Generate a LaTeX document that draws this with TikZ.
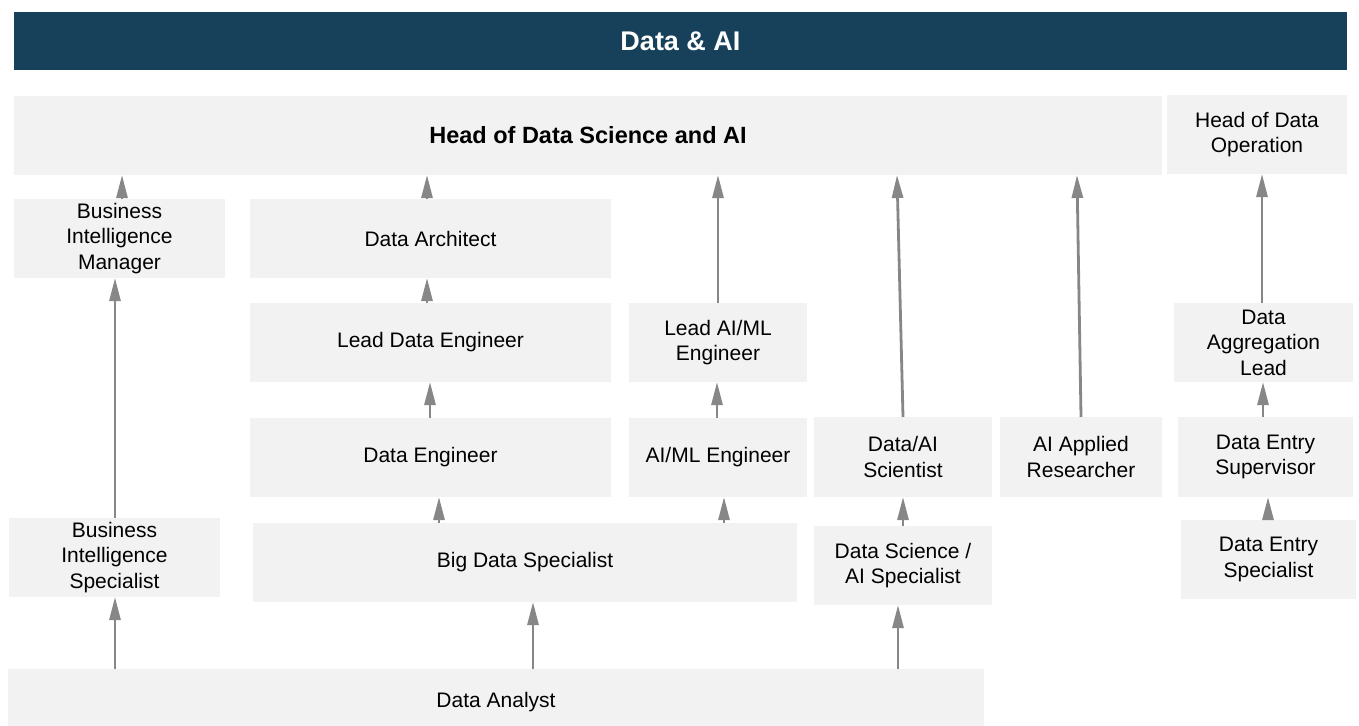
\documentclass[tikz,border=0pt]{standalone}
\usepackage{fontspec}
\setmainfont{Liberation Sans}
\usetikzlibrary{arrows.meta}
\definecolor{banner}{HTML}{17415A}
\definecolor{boxfill}{HTML}{F2F2F2}
\definecolor{arrgray}{HTML}{878787}
\begin{document}
\begin{tikzpicture}[x=1pt,y=-1pt,
  box/.style={fill=boxfill, draw=none, inner sep=0pt, outer sep=0pt, align=center,
    font=\fontsize{21}{25.5}\selectfont, text=black},
  titlebox/.style={fill=banner, draw=none, inner sep=0pt, outer sep=0pt,
    font=\fontsize{27}{30}\selectfont\bfseries, text=white},
  arr/.style={draw=arrgray, line width=2.8pt, -{Triangle[length=23pt,width=11pt]}}
]
\useasboundingbox (0,0) rectangle (1359,725);
% boxes
\node[titlebox, minimum width=1333, minimum height=58] (banner) at (680.5,41) {Data \& AI};
\node[box, minimum width=1148, minimum height=79, font=\fontsize{23.5}{28}\selectfont\bfseries] (head) at (588,135.5) {Head of Data Science and AI};
\node[box, minimum width=180, minimum height=79] (hodo) at (1257,134.5) {Head of Data\\Operation};
\node[box, minimum width=211, minimum height=79] (bim) at (119.5,238.5) {Business\\Intelligence\\Manager};
\node[box, minimum width=361, minimum height=79] (arch) at (430.5,238.5) {Data Architect};
\node[box, minimum width=361, minimum height=79] (lde) at (430.5,342.5) {Lead Data Engineer};
\node[box, minimum width=178, minimum height=79] (lai) at (718,342.5) {Lead AI/ML\\Engineer};
\node[box, minimum width=179, minimum height=79] (agg) at (1263.5,342.5) {Data\\Aggregation\\Lead};
\node[box, minimum width=361, minimum height=79] (de) at (430.5,457.5) {Data Engineer};
\node[box, minimum width=178, minimum height=79] (aiml) at (718,457.5) {AI/ML Engineer};
\node[box, minimum width=178, minimum height=80] (sci) at (903,457) {Data/AI\\Scientist};
\node[box, minimum width=162, minimum height=80] (res) at (1081,457) {AI Applied\\Researcher};
\node[box, minimum width=175, minimum height=80] (sup) at (1265.5,457) {Data Entry\\Supervisor};
\node[box, minimum width=211, minimum height=79] (bis) at (114.5,557.5) {Business\\Intelligence\\Specialist};
\node[box, minimum width=544, minimum height=79] (big) at (525,562.5) {Big Data Specialist};
\node[box, minimum width=178, minimum height=79] (dsai) at (903,565.5) {Data Science /\\AI Specialist};
\node[box, minimum width=175, minimum height=79] (des) at (1268.5,559.5) {Data Entry\\Specialist};
\node[box, minimum width=976, minimum height=66] (da) at (496,702) {Data Analyst};
% arrows
\draw[arr] (122,0 |- bim.north) -- (122,0 |- head.south);
\draw[arr] (115,0 |- bis.north) -- (115,0 |- bim.south);
\draw[arr] (115,0 |- da.north) -- (115,0 |- bis.south);
\draw[arr] (427,0 |- arch.north) -- (427,0 |- head.south);
\draw[arr] (427,0 |- lde.north) -- (427,0 |- arch.south);
\draw[arr] (430,0 |- de.north) -- (430,0 |- lde.south);
\draw[arr] (439,0 |- big.north) -- (439,0 |- de.south);
\draw[arr] (718,0 |- lai.north) -- (718,0 |- head.south);
\draw[arr] (717,0 |- aiml.north) -- (717,0 |- lai.south);
\draw[arr] (724,0 |- big.north) -- (724,0 |- aiml.south);
\draw[arr] (533,0 |- da.north) -- (533,0 |- big.south);
\draw[arr] (898,0 |- da.north) -- (898,0 |- dsai.south);
\draw[arr] (903,0 |- dsai.north) -- (903,0 |- sci.south);
\draw[arr] (903,0 |- sci.north) -- (897,0 |- head.south);
\draw[arr] (1081,0 |- res.north) -- (1077,0 |- head.south);
\draw[arr] (1262,0 |- agg.north) -- (1262,0 |- hodo.south);
\draw[arr] (1263,0 |- sup.north) -- (1263,0 |- agg.south);
\draw[arr] (1268,0 |- des.north) -- (1268,0 |- sup.south);
\end{tikzpicture}
\end{document}
